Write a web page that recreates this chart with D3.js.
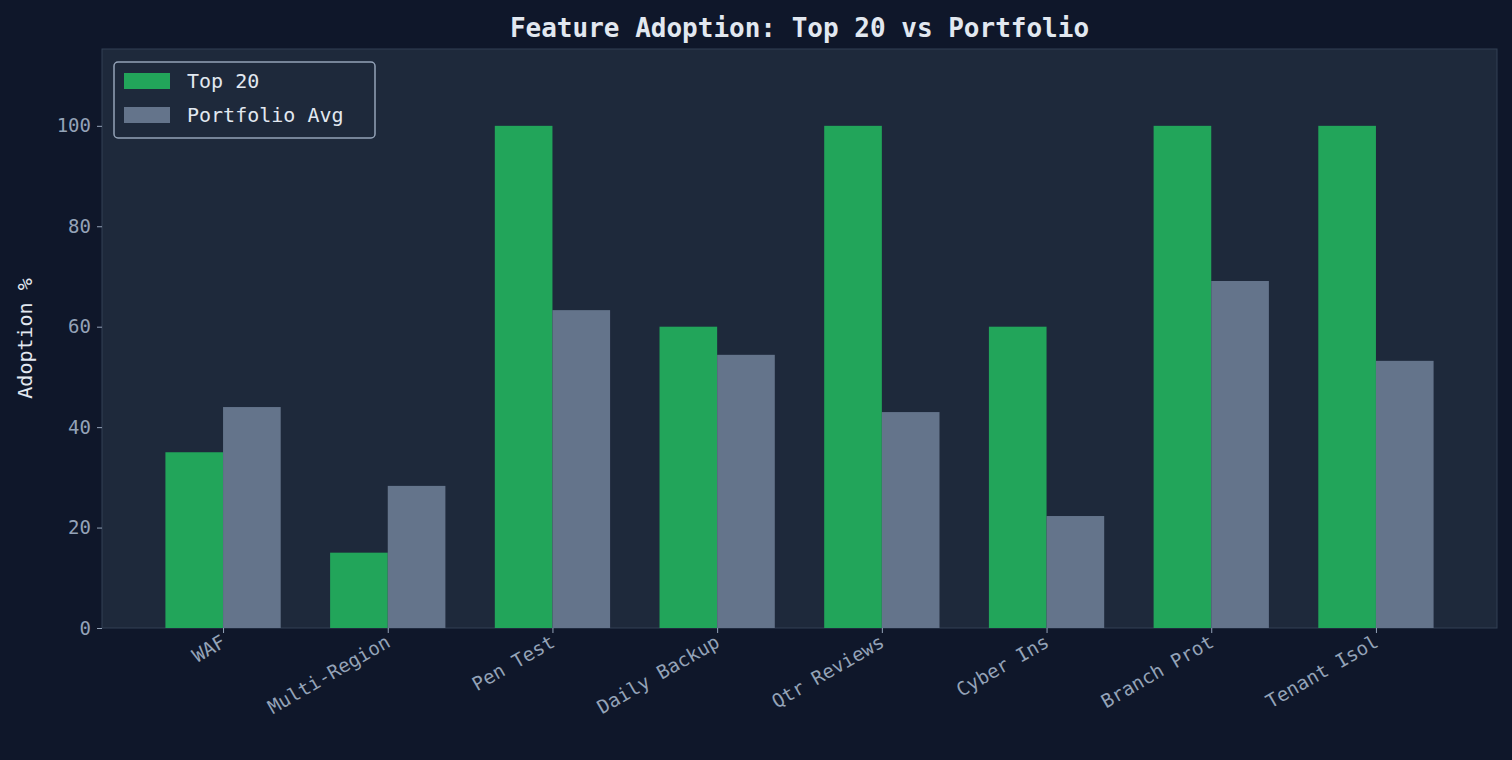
<!DOCTYPE html>
<html><head><meta charset="utf-8">
<script src="https://cdn.jsdelivr.net/npm/d3@7"></script>
<style>body{margin:0;background:#0f172a;}svg{display:block;font-family:"DejaVu Sans Mono",monospace;}</style>
</head><body><div id="chart"></div>
<script>
const categories = ['WAF','Multi-Region','Pen Test','Daily Backup','Qtr Reviews','Cyber Ins','Branch Prot','Tenant Isol'];
const top20 = [35,15,100,60,100,60,100,100];
const portfolio = [44.0,28.3,63.3,54.4,43.0,22.3,69.1,53.2];
const yTicks = [0,20,40,60,80,100];

const W = 1512, H = 760;
const m = {left:102, right:1497, top:49, bottom:628};
const svg = d3.select('#chart').append('svg').attr('width',W).attr('height',H);
svg.append('rect').attr('width',W).attr('height',H).attr('fill','#0f172a');
svg.append('rect').attr('x',m.left).attr('y',m.top).attr('width',m.right-m.left).attr('height',m.bottom-m.top)
  .attr('fill','#1e293b').attr('stroke','#334155');

const x = d3.scaleLinear().domain([-0.735, categories.length-1+0.735]).range([m.left,m.right]);
const y = d3.scaleLinear().domain([0,115.3]).range([m.bottom,m.top]);
const bw = 0.35;

const g = svg.append('g');
g.selectAll('.t').data(top20).join('rect')
  .attr('x',(d,i)=>x(i-bw)).attr('width',(d,i)=>x(i)-x(i-bw))
  .attr('y',d=>y(d)).attr('height',d=>y(0)-y(d)).attr('fill','#22a55a');
g.selectAll('.p').data(portfolio).join('rect')
  .attr('x',(d,i)=>x(i)).attr('width',(d,i)=>x(i+bw)-x(i))
  .attr('y',d=>y(d)).attr('height',d=>y(0)-y(d)).attr('fill','#64748b');

const ya = svg.append('g').attr('transform',`translate(${m.left},0)`)
  .call(d3.axisLeft(y).tickValues(yTicks).tickSize(5).tickPadding(6));
ya.select('.domain').remove();
ya.selectAll('line').attr('stroke','#94a3b8');
ya.selectAll('text').attr('fill','#94a3b8').style('font-size','19px').style('font-family','DejaVu Sans Mono');

const xa = svg.append('g').attr('transform',`translate(0,${m.bottom})`)
  .call(d3.axisBottom(x).tickValues(d3.range(categories.length)).tickFormat(i=>categories[i]).tickSize(5));
xa.select('.domain').remove();
xa.selectAll('line').attr('stroke','#94a3b8');
xa.selectAll('text').attr('fill','#94a3b8').style('font-size','19px').style('font-family','DejaVu Sans Mono')
  .attr('text-anchor','end').attr('dy','0.35em').attr('transform','translate(0,12) rotate(-30)').attr('y',0).attr('x',0);

svg.append('text').attr('x',(m.left+m.right)/2).attr('y',37).attr('text-anchor','middle')
  .attr('fill','#e2e8f0').style('font-size','26px').style('font-weight','bold').text('Feature Adoption: Top 20 vs Portfolio');
svg.append('text').attr('transform',`translate(32,${(m.top+m.bottom)/2}) rotate(-90)`).attr('text-anchor','middle')
  .attr('fill','#e2e8f0').style('font-size','20px').text('Adoption %');

const lg = svg.append('g').attr('transform','translate(114,62)');
lg.append('rect').attr('width',261).attr('height',76).attr('rx',4).attr('fill','#1e293b').attr('stroke','#94a3b8').attr('stroke-width',1.5);
[['Top 20','#22a55a'],['Portfolio Avg','#64748b']].forEach((d,i)=>{
  lg.append('rect').attr('x',10).attr('y',11+i*34).attr('width',46).attr('height',16).attr('fill',d[1]);
  lg.append('text').attr('x',73).attr('y',26+i*34).attr('fill','#e2e8f0').style('font-size','20px').text(d[0]);
});
</script></body></html>
